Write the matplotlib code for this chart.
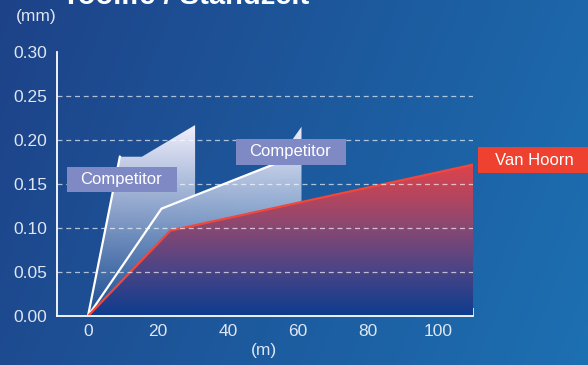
import numpy as np
import matplotlib
matplotlib.use('Agg')
import matplotlib.pyplot as plt
from matplotlib.patches import Polygon, Rectangle
from matplotlib.colors import LinearSegmentedColormap

plt.rcParams['font.family'] = ['Liberation Sans', 'DejaVu Sans']

# ================= data =================
vh_x = [0, 23.5, 110]
vh_y = [0, 0.097, 0.172]

c1_x = [0, 9.1, 15.4, 30.6]
c1_y = [0, 0.181, 0.181, 0.217]

c2_x = [0, 21, 53.5, 61]
c2_y = [0, 0.122, 0.173, 0.215]

x_labels = [0, 20, 40, 60, 80, 100]
x_marks = [10, 30, 50, 70, 90, 110]
y_ticks = [0.00, 0.05, 0.10, 0.15, 0.20, 0.25, 0.30]
grid_y = [0.05, 0.10, 0.15, 0.20, 0.25]

TXT = '#dfe6f3'

fig = plt.figure(figsize=(5.88, 3.65), dpi=100)

# --- background gradient ---
bg = fig.add_axes([0, 0, 1, 1], zorder=-10)
gx, gy = np.meshgrid(np.linspace(0, 1, 300), np.linspace(0, 1, 200))
t = np.clip(0.8 * gx + 0.2 * gy, 0, 1)
c0 = np.array([30, 66, 136]) / 255
c1 = np.array([28, 112, 178]) / 255
img = c0[None, None, :] * (1 - t[..., None]) + c1[None, None, :] * t[..., None]
bg.imshow(img, aspect='auto', extent=[0, 1, 0, 1], origin='upper')
bg.axis('off')

ax = fig.add_axes([57 / 588, 1 - 316 / 365, (473 - 57) / 588, (316 - 52) / 365])
ax.patch.set_alpha(0)
ax.set_xlim(-8.86, 110)
ax.set_ylim(0, 0.30)

# --- competitor fill (union of both shapes), white fading to bottom ---
y_mid = np.interp(c1_x[-1], c2_x, c2_y)
comp_poly = list(zip(c1_x, c1_y)) + [(c1_x[-1], y_mid)] + \
    list(zip(c2_x[2:], c2_y[2:])) + [(c2_x[-1], 0)]
patch_c = Polygon(comp_poly, closed=True, facecolor='none', edgecolor='none')
ax.add_patch(patch_c)
ramp = np.linspace(0, 1, 256)[:, None]
rgba = np.zeros((256, 2, 4))
rgba[..., 0] = 0.92
rgba[..., 1] = 0.92
rgba[..., 2] = 0.98
rgba[..., 3] = np.clip(ramp * 1.05, 0, 1) ** 1.1
im_c = ax.imshow(rgba, extent=[-8.86, 110, 0, 0.22], origin='lower', aspect='auto', zorder=2)
im_c.set_clip_path(patch_c)

# --- Van Hoorn fill, red fading to dark blue ---
vh_poly = list(zip(vh_x, vh_y)) + [(vh_x[-1], 0)]
patch_v = Polygon(vh_poly, closed=True, facecolor='none', edgecolor='none')
ax.add_patch(patch_v)
cmap_v = LinearSegmentedColormap.from_list('vh', [
    (0.0, '#0d3c8e'), (0.3, '#4a4486'), (0.6, '#8c4871'), (1.0, '#e0434a')])
im_v = ax.imshow(np.linspace(0, 1, 256)[:, None], cmap=cmap_v, extent=[-8.86, 110, 0, 0.172],
                 origin='lower', aspect='auto', zorder=3)
im_v.set_clip_path(patch_v)

# --- lines ---
ax.plot(c1_x[:2], c1_y[:2], color='white', lw=1.6, zorder=4)
ax.plot(c2_x[:3], c2_y[:3], color='white', lw=1.6, zorder=4)
ax.plot(vh_x, vh_y, color='#f2473a', lw=1.6, zorder=5)

# --- grid ---
for gyv in grid_y:
    ax.axhline(gyv, color='white', alpha=0.65, lw=0.9, ls=(0, (4, 3)), zorder=6)

# --- label boxes ---
ax.add_patch(Rectangle((-6, 0.141), 31.4, 0.028, facecolor='#7f89c3', edgecolor='none', zorder=7))
ax.text(-2.3, 0.155, 'Competitor', color='white', fontsize=12, va='center', ha='left', zorder=8)
ax.add_patch(Rectangle((42.3, 0.172), 31.4, 0.029, facecolor='#7f89c3', edgecolor='none', zorder=7))
ax.text(46.0, 0.1865, 'Competitor', color='white', fontsize=12, va='center', ha='left', zorder=8)
ax.add_patch(Rectangle((111.4, 0.162), 32, 0.030, facecolor='#ee4130', edgecolor='none',
                       zorder=7, clip_on=False))
ax.text(116.3, 0.177, 'Van Hoorn', color='white', fontsize=12, va='center', ha='left',
        zorder=8, clip_on=False)

# --- axes styling ---
for s in ['top', 'right']:
    ax.spines[s].set_visible(False)
for s in ['left', 'bottom']:
    ax.spines[s].set_color('white')
    ax.spines[s].set_linewidth(1.3)
    ax.spines[s].set_zorder(9)

ax.set_xticks(x_marks)
ax.set_xticklabels([])
ax.set_xticks(x_labels, minor=True)
ax.set_xticklabels([str(v) for v in x_labels], minor=True)
ax.tick_params(axis='x', which='major', direction='in', length=6, width=1.1, color='white')
ax.tick_params(axis='x', which='minor', length=0, pad=6, labelsize=12.5, labelcolor=TXT)
ax.set_yticks(y_ticks)
ax.set_yticklabels([f'{v:.2f}' for v in y_ticks])
ax.tick_params(axis='y', length=0, pad=7, labelsize=12.5, labelcolor=TXT)

fig.text(264 / 588, 1 - 350 / 365, '(m)', color=TXT, fontsize=12.5, ha='center', va='center')
fig.text(36 / 588, 1 - 17 / 365, '(mm)', color=TXT, fontsize=12.5, ha='center', va='center')
fig.text(62 / 588, 1 - 4 / 365, 'Toolife / Standzeit', color='white', fontsize=21,
         fontweight='bold', ha='left', va='baseline')

fig.savefig('out.png', dpi=100)
